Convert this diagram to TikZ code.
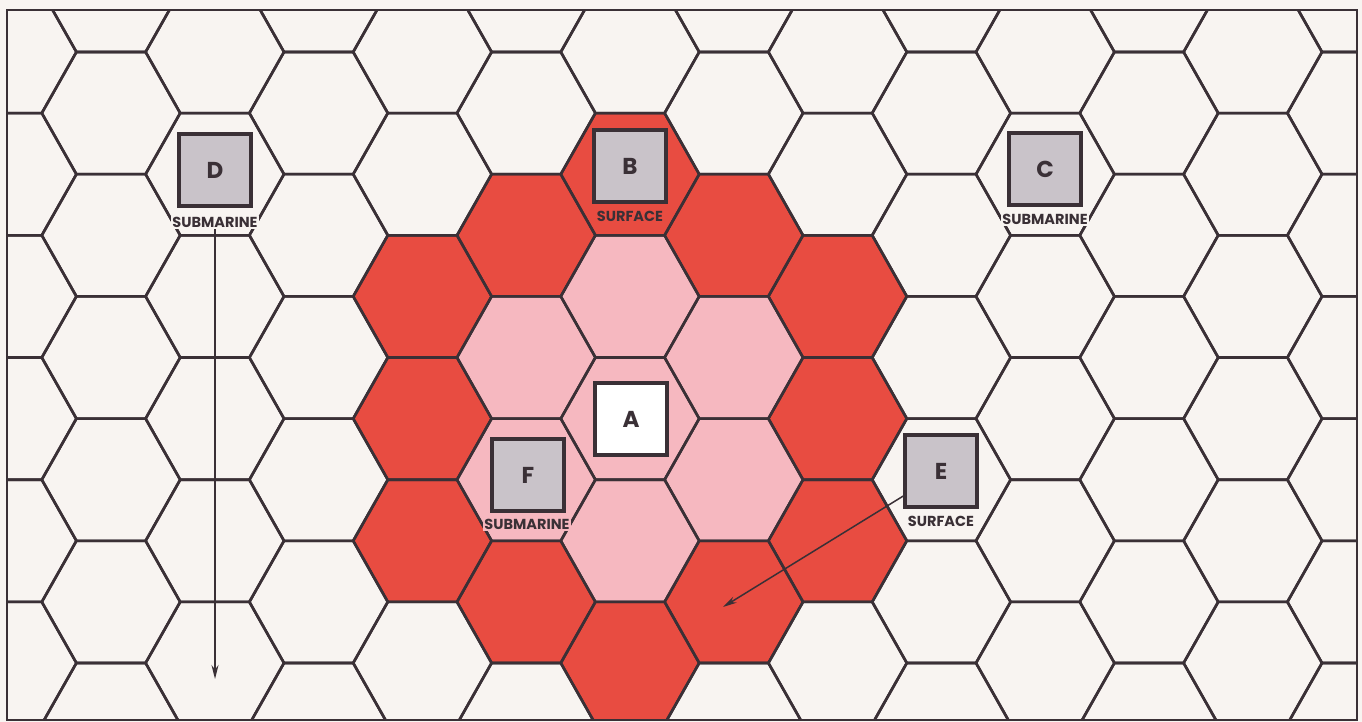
\documentclass[tikz,border=0pt]{standalone}
\usepackage{fontspec}
\setsansfont{Poppins}
\usetikzlibrary{arrows.meta}
\definecolor{bg}{HTML}{F8F4F1}
\definecolor{hexred}{HTML}{E84C41}
\definecolor{hexpink}{HTML}{F6B8C0}
\definecolor{boxgray}{HTML}{C9C3C9}
\definecolor{ink}{HTML}{3A3036}
\newcommand\hexcell[3]{\path[#1,shift={(#2,#3)}] (-69.2,0) -- (-34.6,-61.1) -- (34.6,-61.1) -- (69.2,0) -- (34.6,61.1) -- (-34.6,61.1) -- cycle;}
\tikzset{
  hexline/.style={draw=ink, line width=2.6pt, line join=round},
  unitbox/.style={draw=ink, line width=3.4pt, fill=boxgray, minimum width=72pt, minimum height=72pt, inner sep=0pt, text=ink, font=\sffamily\bfseries\fontsize{23}{23}\selectfont},
  unitlabel/.style={inner sep=1.2pt, text=ink, font=\sffamily\bfseries\fontsize{14.5}{14.5}\selectfont},
  movearrow/.style={draw=ink, line width=1.5pt, -{Stealth[length=14pt,width=7pt]}}
}
\begin{document}
\begin{tikzpicture}[x=1pt,y=-1pt]
\fill[bg] (0,0) rectangle (1362,722);
\useasboundingbox (0,0) rectangle (1362,722);
\begin{scope}
  \clip (7,10) rectangle (1357,720);
  % red ring
  \foreach \cx/\cy in {422.4/296.4,422.4/418.6,422.4/540.8,526.2/235.3,526.2/601.9,630/174.2,630/663,733.8/235.3,733.8/601.9,837.6/296.4,837.6/418.6,837.6/540.8}
    {\hexcell{fill=hexred}{\cx}{\cy}}
  % pink ring
  \foreach \cx/\cy in {630/296.4,630/418.6,630/540.8,526.2/357.5,526.2/479.7,733.8/357.5,733.8/479.7}
    {\hexcell{fill=hexpink}{\cx}{\cy}}
  % grid
  \foreach \i in {0,...,13}{
    \pgfmathsetmacro\cx{7.2+103.8*\i}
    \pgfmathsetmacro\off{isodd(\i) ? -9.1 : 52}
    \foreach \k in {-1,...,6}{
      \pgfmathsetmacro\cy{\off+122.2*\k}
      \hexcell{hexline}{\cx}{\cy}
    }
  }
\end{scope}
\draw[ink, line width=2.6pt] (7,10) rectangle (1357,720);
% units
\node[unitbox] (D) at (215,170) {D};
\node[unitlabel, fill=bg, anchor=north] (Dlab) at (215,216) {SUBMARINE};
\node[unitbox] (B) at (630,166) {B};
\node[unitlabel, fill=hexred, anchor=north] (Blab) at (630,210) {SURFACE};
\node[unitbox] (C) at (1045,169) {C};
\node[unitlabel, fill=bg, anchor=north] (Clab) at (1045,213) {SUBMARINE};
\node[unitbox, fill=white] (A) at (631,419) {A};
\node[unitbox] (F) at (528,475) {F};
\node[unitlabel, fill=hexpink, anchor=north] (Flab) at (527,518) {SUBMARINE};
\node[unitbox] (E) at (941,471) {E};
\node[unitlabel, fill=bg, anchor=north] (Elab) at (941,515) {SURFACE};
% movement arrows
\coordinate (Dend) at (215,679);
\coordinate (Eend) at (723,607);
\draw[movearrow] (Dlab.south) -- (Dend);
\draw[movearrow] ([yshift=-25pt]E.west) -- (Eend);
\end{tikzpicture}
\end{document}
